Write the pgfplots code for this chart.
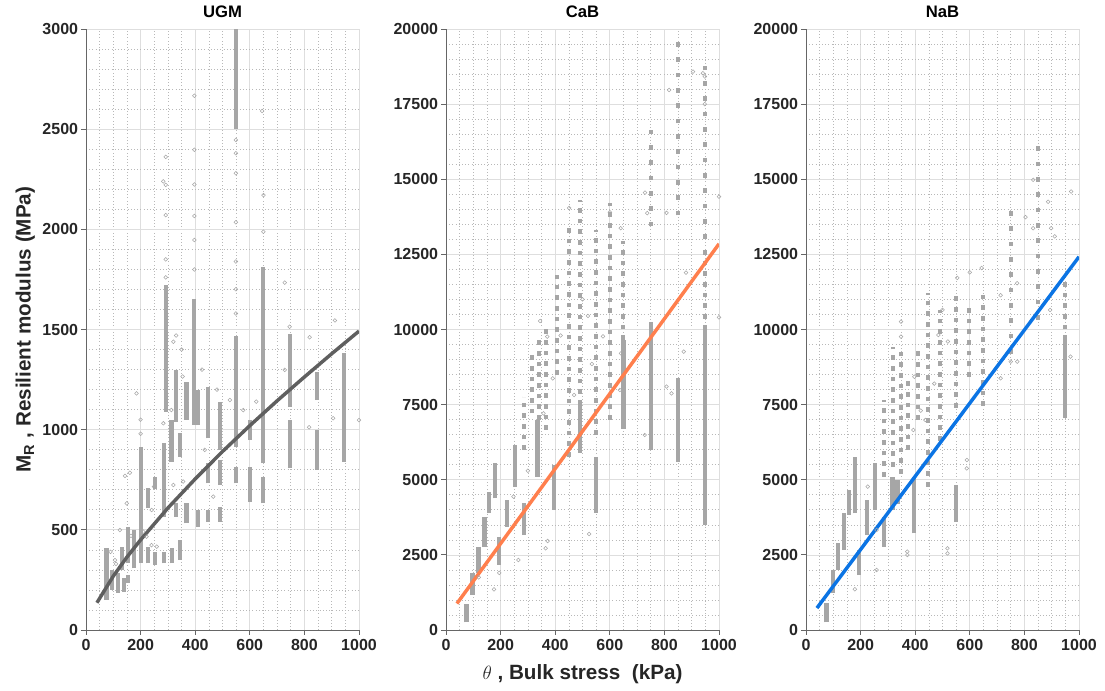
\documentclass[border=0pt]{standalone}
\usepackage{fontspec}
\setmainfont{Liberation Sans}
\usepackage{pgfplots}
\pgfplotsset{compat=1.18}
\definecolor{ptc}{HTML}{A6A6A6}
\definecolor{ugm}{HTML}{5F5F5F}
\definecolor{cab}{HTML}{FF7F4D}
\definecolor{nab}{HTML}{0B74E4}
\definecolor{tickc}{HTML}{262626}
\pgfplotsset{
  panel/.style={
    scale only axis, width=204.75pt, height=450.75pt, anchor=south west,
    xmin=0, xmax=1000, xtick={0,200,...,1000}, minor x tick num=3,
    grid=both,
    major grid style={draw=black!13, line width=0.5pt},
    minor grid style={draw=black!28, dotted, line width=0.45pt},
    axis x line*=bottom, axis y line*=left,
    axis line style={draw=black!60, line width=0.6pt, -},
    tick align=outside, major tick length=3.75pt, minor tick length=0pt,
    tick style={draw=black!60, line width=0.6pt},
    ticklabel style={font=\bfseries\fontsize{12}{12}\selectfont, text=tickc},
    yticklabel style={inner sep=2pt},
    /pgf/number format/assume math mode=true,
    /pgf/number format/1000 sep={},
    scaled ticks=false,
    title style={font=\bfseries\fontsize{12.5}{12.5}\selectfont, at={(0.5,1)}, anchor=south, yshift=0.5pt, inner sep=1.5pt},
    unbounded coords=jump,
  },
  strip/.style={ptc, line width=3.1pt, no markers},
  dashA/.style={ptc, line width=3.0pt, no markers, dash pattern=on 3.5pt off 4.5pt},
  dashB/.style={ptc, line width=3.0pt, no markers, dash pattern=on 3.5pt off 8pt},
  outl/.style={only marks, mark=o, mark size=1.4pt, ptc, line width=0.4pt},
}
\begin{document}
\begin{tikzpicture}[x=0.75pt,y=0.75pt]
\path[use as bounding box] (0,0) rectangle (1105,691);

% ---------------- UGM ----------------
\begin{axis}[panel, at={(64.5pt,45.75pt)}, title={UGM},
  ymin=0, ymax=3000, ytick={0,500,...,3000}, minor y tick num=4,
  ylabel={M\textsubscript{R} , Resilient modulus (MPa)},
  ylabel style={at={(axis description cs:-0.222,0.5)}, anchor=center, rotate=0, font=\bfseries\fontsize{15.5}{15.5}\selectfont, text=tickc}]
\addplot[strip] coordinates {
(75,150)(75,410)(75,nan)
(95,200)(95,300)(95,nan)
(116,185)(116,285)(116,nan)
(133,300)(133,416)(133,nan)
(140,190)(140,260)(140,nan)
(155,233)(155,275)(155,nan)
(155,333)(155,516)(155,nan)
(175,308)(175,500)(175,nan)
(200,333)(200,915)(200,nan)
(227,333)(227,416)(227,nan)
(227,607)(227,707)(227,nan)
(253,325)(253,391)(253,nan)
(253,702)(253,765)(253,nan)
(285,333)(285,391)(285,nan)
(285,566)(285,932)(285,nan)
(293,1090)(293,1720)(293,nan)
(315,333)(315,408)(315,nan)
(313,840)(313,1048)(313,nan)
(329,1040)(329,1300)(329,nan)
(329,566)(329,632)(329,nan)
(345,865)(345,982)(345,nan)
(345,350)(345,450)(345,nan)
(368,1048)(368,1240)(368,nan)
(368,532)(368,632)(368,nan)
(397,1023)(397,1650)(397,nan)
(411,1023)(411,1198)(411,nan)
(411,516)(411,599)(411,nan)
(448,957)(448,1215)(448,nan)
(448,732)(448,832)(448,nan)
(448,541)(448,599)(448,nan)
(490,899)(490,1140)(490,nan)
(490,724)(490,849)(490,nan)
(490,541)(490,616)(490,nan)
(549,915)(549,1470)(549,nan)
(549,732)(549,815)(549,nan)
(549,2500)(549,3000)(549,nan)
(600,950)(600,1048)(600,nan)
(600,640)(600,815)(600,nan)
(649,832)(649,1812)(649,nan)
(649,632)(649,765)(649,nan)
(746,807)(746,1048)(746,nan)
(746,1115)(746,1480)(746,nan)
(846,799)(846,998)(846,nan)
(846,1148)(846,1290)(846,nan)
(945,840)(945,1381)(945,nan)
};
\addplot[outl] coordinates {
(292,2222)(283,2239)(292,2362)(292,2071)(292,1850)(292,1760)
(397,2667)(397,2397)(397,2224)(397,2067)(397,1947)(397,1800)
(549,2446)(549,2280)(549,2035)(549,1839)(549,1701)(549,1580)(549,2380)
(645,2591)(650,2171)(650,1988)
(728,1734)(746,1514)(819,1461)(912,1545)(320,1439)
(185,1181)(149,632)(143,769)(161,785)(240,599)(249,716)(283,1032)
(313,1098)(354,1265)(527,1148)(576,1098)(624,1140)(728,1298)(817,1012)
(905,1057)(1000,1048)(435,899)(466,666)(320,724)(356,741)(259,416)
(240,424)(210,491)(124,499)(106,349)(222,466)(200,1050)(200,980)
(330,1470)(350,1400)(425,1300)(480,1200)(90,390)(110,330)(165,470)
};
\addplot[ugm, line width=2.6pt, no markers] coordinates {
(40,136)(100,269)(150,364)(200,450)(300,609)(400,754)(500,891)
(600,1020)(700,1144)(800,1263)(900,1379)(1000,1492)
};
\end{axis}

% ---------------- CaB ----------------
\begin{axis}[panel, at={(334.5pt,45.75pt)}, title={CaB},
  ymin=0, ymax=20000, ytick={0,2500,...,20000}, minor y tick num=4,
  xlabel={$\theta$ , Bulk stress\ \ (kPa)},
  xlabel style={at={(axis description cs:0.5,-0.073)}, anchor=center, font=\bfseries\fontsize{15.5}{15.5}\selectfont, text=tickc}]
\addplot[strip] coordinates {
(75,250)(75,850)(75,nan)
(97,1165)(97,1886)(97,nan)
(119,1886)(119,2773)(119,nan)
(141,2773)(141,3772)(141,nan)
(159,3883)(159,4600)(159,nan)
(180,4380)(180,5547)(180,nan)
(194,2163)(194,3106)(194,nan)
(222,3439)(222,4326)(222,nan)
(252,4770)(252,6157)(252,nan)
(285,3161)(285,4215)(285,nan)
(335,5100)(335,7000)(335,nan)
(397,3994)(397,5491)(397,nan)
(490,5900)(490,7500)(490,nan)
(550,3900)(550,5770)(550,nan)
(650,6700)(650,9650)(650,nan)
(750,5990)(750,10250)(750,nan)
(850,5600)(850,8400)(850,nan)
(950,3500)(950,10000)(950,nan)
};
\addplot[dashA] coordinates {
(285,5990)(285,7765)(285,nan)
(315,7210)(315,9300)(315,nan)
(340,7000)(340,9700)(340,nan)
(366,6656)(366,10000)(366,nan)
(405,8500)(405,11800)(405,nan)
(450,5770)(450,13480)(450,nan)
(490,7500)(490,14300)(490,nan)
(550,6500)(550,13300)(550,nan)
(600,7000)(600,14200)(600,nan)
(650,9650)(650,12950)(650,nan)
(950,10000)(950,12500)(950,nan)
};
\addplot[dashB] coordinates {
(750,13430)(750,16940)(750,nan)
(850,13800)(850,19800)(850,nan)
(950,12500)(950,19000)(950,nan)
};
\addplot[outl] coordinates {
(176,1353)(265,2330)(365,2718)(372,2962)(524,3195)(247,4437)(357,7210)
(391,8375)(469,7820)(534,8852)(641,9207)(808,8100)(826,7876)(871,9262)
(728,6489)(637,7987)(345,10283)(371,9761)(451,14044)(520,10450)(575,9770)
(640,13370)(729,14553)(737,13870)(817,17970)(808,13880)(905,18580)
(941,18530)(1000,14420)(1000,10406)(879,11890)(948,18420)(948,17500)
(195,1900)(120,1750)(300,5300)(420,9800)(500,11000)(600,13900)
};
\addplot[cab, line width=2.6pt, no markers] coordinates {(40,880)(1000,12850)};
\end{axis}

% ---------------- NaB ----------------
\begin{axis}[panel, at={(604.5pt,45.75pt)}, title={NaB},
  ymin=0, ymax=20000, ytick={0,2500,...,20000}, minor y tick num=4]
\addplot[strip] coordinates {
(75,250)(75,900)(75,nan)
(98,1220)(98,2000)(98,nan)
(118,2000)(118,2884)(118,nan)
(138,2660)(138,3883)(138,nan)
(159,3827)(159,4660)(159,nan)
(180,3883)(180,5768)(180,nan)
(195,1830)(195,2660)(195,nan)
(223,3161)(223,4326)(223,nan)
(253,3994)(253,5547)(253,nan)
(285,2773)(285,3772)(285,nan)
(317,3994)(317,5103)(317,nan)
(335,4200)(335,5000)(335,nan)
(397,3217)(397,5103)(397,nan)
(550,3600)(550,4830)(550,nan)
(950,7050)(950,9650)(950,nan)
};
\addplot[dashA] coordinates {
(285,5103)(285,7654)(285,nan)
(317,5435)(317,9429)(317,nan)
(347,5200)(347,9400)(347,nan)
(372,5990)(372,8320)(372,nan)
(411,6989)(411,9429)(411,nan)
(448,4770)(448,11200)(448,nan)
(491,6300)(491,10650)(491,nan)
(550,7400)(550,11200)(550,nan)
(598,8430)(598,10800)(598,nan)
(650,7450)(650,11200)(650,nan)
(950,9650)(950,11600)(950,nan)
};
\addplot[dashB] coordinates {
(750,9200)(750,14100)(750,nan)
(850,10330)(850,16450)(850,nan)
};
\addplot[outl] coordinates {
(348,10260)(348,9760)(485,9818)(500,10650)(554,11720)(643,12045)
(713,11140)(773,11540)(832,14980)(804,13740)(832,13370)(887,14250)
(898,13370)(911,13100)(971,14590)(894,10650)
(179,1353)(259,1997)(259,3328)(226,4770)(371,2496)(371,2607)(518,2718)
(518,2551)(589,5657)(589,5380)(713,8375)(750,8930)(774,8930)(969,9096)
(393,6656)(437,6989)(397,8430)(420,7300)(470,8200)(520,9600)(600,11900)
};
\addplot[nab, line width=2.6pt, no markers] coordinates {(40,730)(1000,12420)};
\end{axis}
\end{tikzpicture}
\end{document}
